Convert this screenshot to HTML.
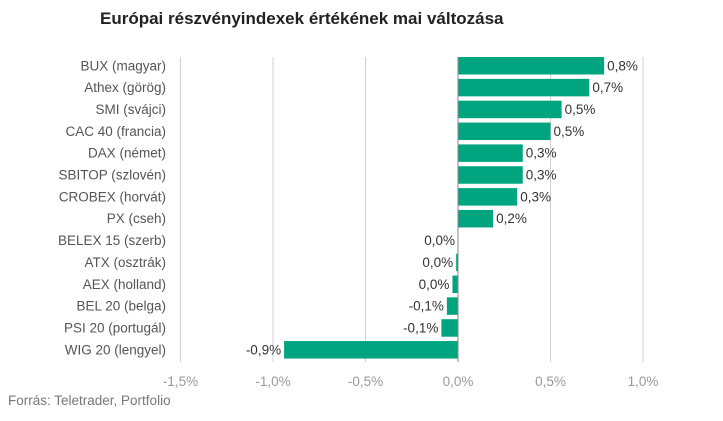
<!DOCTYPE html>
<html><head><meta charset="utf-8"><style>
body{margin:0;background:#fff;width:723px;height:416px;overflow:hidden;font-family:"Liberation Sans",sans-serif}
</style></head><body>
<svg id="c" width="723" height="416" xmlns="http://www.w3.org/2000/svg">
<text x="100" y="24" font-size="17" font-weight="bold" fill="#222">Európai részvényindexek értékének mai változása</text>
<text x="8" y="405" font-size="13.5" fill="#777">Forrás: Teletrader, Portfolio</text>
<g id="grid"></g><g id="bars"></g>
</svg>
<script>
const categories=["BUX (magyar)","Athex (görög)","SMI (svájci)","CAC 40 (francia)","DAX (német)","SBITOP (szlovén)","CROBEX (horvát)","PX (cseh)","BELEX 15 (szerb)","ATX (osztrák)","AEX (holland)","BEL 20 (belga)","PSI 20 (portugál)","WIG 20 (lengyel)"];
const values=[0.79,0.71,0.56,0.50,0.35,0.35,0.32,0.19,0.0,-0.01,-0.03,-0.06,-0.09,-0.94];
const valueLabels=["0,8%","0,7%","0,5%","0,5%","0,3%","0,3%","0,3%","0,2%","0,0%","0,0%","0,0%","-0,1%","-0,1%","-0,9%"];
const ticks=[-1.5,-1.0,-0.5,0,0.5,1.0];
const tickLabels=["-1,5%","-1,0%","-0,5%","0,0%","0,5%","1,0%"];
const NS="http://www.w3.org/2000/svg";
const x=v=>458+v*185;
const y=i=>57+i*21.85;
const bh=17.5;
const grid=document.getElementById('grid'),bars=document.getElementById('bars');
function mk(t,a,p){const e=document.createElementNS(NS,t);for(const k in a)e.setAttribute(k,a[k]);p.appendChild(e);return e;}
ticks.forEach((t,i)=>{
  if(t!==0){const l=mk('line',{x1:x(t),x2:x(t),y1:57,y2:362,stroke:'#d0d0d0','stroke-width':1},grid);
  
  }
  const tx=mk('text',{x:x(t),y:386,'font-size':13.5,fill:'#999','text-anchor':'middle'},grid);
  tx.textContent=tickLabels[i];
  
  
});
categories.forEach((c,i)=>{
  const v=values[i];
  const r=mk('rect',{x:Math.min(x(0),x(v)),y:y(i),width:Math.max(Math.abs(x(v)-x(0)),0.01),height:bh,fill:'#00a57f'},bars);
  
  
  const lb=mk('text',{x:166,y:y(i)+bh/2+4.5,'font-size':13.5,fill:'#555','text-anchor':'end'},bars);
  lb.textContent=c;
  
  
  const neg=v<0||valueLabels[i]==="0,0%";
  const vl=mk('text',{x:neg?Math.min(x(v),x(0))-3:x(v)+3,y:y(i)+bh/2+4.5,'font-size':13.5,fill:'#333','text-anchor':neg?'end':'start'},bars);
  vl.textContent=valueLabels[i];
  
  
});
const z=mk('line',{x1:x(0),x2:x(0),y1:57,y2:362,stroke:'#888','stroke-width':1},bars);


</script>
</body></html>
